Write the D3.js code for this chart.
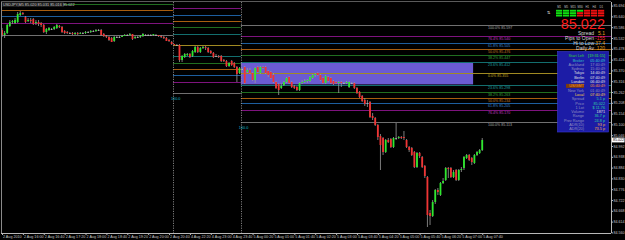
<!DOCTYPE html>
<html><head><meta charset="utf-8">
<script src="https://cdn.jsdelivr.net/npm/d3@7"></script>
<style>html,body{margin:0;padding:0;background:#000;overflow:hidden}svg{display:block}</style>
</head><body><svg id="c" width="625" height="240"></svg>
<script>
// ---------------- DATA ----------------
const opens=[85.572,85.547,85.557,85.592,85.612,85.607,85.612,85.647,85.657,85.637,85.617,85.622,85.627,85.607,85.612,85.607,85.597,85.562,85.572,85.577,85.577,85.582,85.592,85.587,85.567,85.562,85.557,85.557,85.552,85.557,85.552,85.557,85.557,85.562,85.562,85.567,85.567,85.572,85.572,85.552,85.542,85.537,85.532,85.517,85.537,85.537,85.537,85.542,85.547,85.547,85.552,85.532,85.537,85.537,85.542,85.547,85.547,85.547,85.547,85.547,85.547,85.542,85.537,85.532,85.522,85.512,85.502,85.497,85.497,85.422,85.437,85.447,85.452,85.442,85.462,85.487,85.462,85.482,85.487,85.482,85.467,85.457,85.442,85.442,85.442,85.422,85.417,85.392,85.417,85.407,85.387,85.357,85.377,85.387,85.362,85.372,85.357,85.322,85.387,85.357,85.387,85.387,85.367,85.362,85.347,85.312,85.302,85.282,85.297,85.312,85.337,85.312,85.292,85.287,85.272,85.307,85.312,85.317,85.317,85.332,85.347,85.357,85.347,85.332,85.307,85.337,85.332,85.317,85.312,85.307,85.312,85.307,85.307,85.287,85.307,85.307,85.282,85.262,85.242,85.222,85.207,85.212,85.142,85.132,85.097,85.042,85.032,84.962,85.022,85.027,84.987,85.032,85.032,85.037,85.037,85.022,84.987,84.982,84.962,84.887,84.957,84.937,84.892,84.837,84.657,84.642,84.712,84.772,84.747,84.807,84.822,84.882,84.882,84.837,84.872,84.822,84.872,84.882,84.932,84.947,84.932,84.907,84.947,84.957,84.972];
const highs=[85.582,85.567,85.602,85.622,85.622,85.632,85.662,85.667,85.662,85.642,85.632,85.632,85.632,85.622,85.622,85.612,85.602,85.582,85.587,85.582,85.592,85.602,85.597,85.592,85.572,85.567,85.562,85.562,85.562,85.562,85.562,85.562,85.567,85.567,85.572,85.572,85.577,85.577,85.577,85.557,85.547,85.542,85.537,85.542,85.542,85.542,85.547,85.552,85.552,85.557,85.552,85.542,85.542,85.547,85.557,85.552,85.552,85.552,85.552,85.552,85.547,85.547,85.542,85.537,85.527,85.517,85.502,85.502,85.502,85.447,85.457,85.457,85.457,85.472,85.492,85.492,85.487,85.492,85.492,85.487,85.472,85.462,85.452,85.447,85.447,85.427,85.422,85.412,85.422,85.412,85.392,85.387,85.382,85.392,85.382,85.382,85.362,85.387,85.392,85.392,85.392,85.392,85.372,85.367,85.357,85.317,85.307,85.307,85.317,85.337,85.342,85.317,85.297,85.292,85.312,85.322,85.327,85.327,85.342,85.352,85.357,85.362,85.352,85.337,85.347,85.342,85.337,85.322,85.317,85.317,85.317,85.312,85.317,85.317,85.312,85.312,85.287,85.267,85.247,85.232,85.222,85.217,85.157,85.137,85.102,85.052,85.037,85.027,85.032,85.032,85.037,85.107,85.042,85.042,85.067,85.027,84.992,84.987,84.967,84.962,84.962,84.942,84.897,84.842,84.672,84.722,84.777,84.782,84.812,84.832,84.887,84.887,84.887,84.872,84.877,84.877,84.887,84.942,84.952,84.952,84.937,84.952,84.967,84.977,85.032];
const lows=[85.537,85.532,85.552,85.587,85.602,85.602,85.607,85.642,85.647,85.607,85.612,85.607,85.597,85.597,85.592,85.587,85.557,85.552,85.567,85.572,85.572,85.577,85.582,85.557,85.552,85.552,85.552,85.547,85.547,85.547,85.552,85.552,85.552,85.557,85.557,85.562,85.562,85.567,85.542,85.537,85.532,85.517,85.512,85.512,85.532,85.532,85.537,85.542,85.542,85.547,85.522,85.527,85.532,85.532,85.537,85.542,85.542,85.542,85.542,85.542,85.537,85.532,85.527,85.517,85.512,85.497,85.497,85.492,85.412,85.412,85.432,85.442,85.432,85.437,85.457,85.457,85.457,85.477,85.472,85.457,85.452,85.432,85.437,85.432,85.412,85.412,85.387,85.387,85.392,85.382,85.312,85.352,85.372,85.302,85.357,85.352,85.317,85.307,85.357,85.352,85.377,85.352,85.337,85.327,85.307,85.277,85.247,85.277,85.292,85.307,85.302,85.282,85.277,85.267,85.267,85.302,85.307,85.307,85.312,85.327,85.337,85.342,85.317,85.302,85.302,85.312,85.302,85.297,85.302,85.257,85.287,85.302,85.302,85.282,85.302,85.277,85.252,85.232,85.212,85.192,85.187,85.132,85.122,85.092,85.022,84.872,84.947,84.957,85.007,84.982,84.982,85.022,85.027,85.027,85.022,84.982,84.962,84.942,84.882,84.882,84.932,84.882,84.832,84.587,84.597,84.637,84.702,84.747,84.742,84.802,84.817,84.832,84.832,84.832,84.817,84.817,84.862,84.872,84.927,84.917,84.897,84.902,84.942,84.952,84.967];
const closes=[85.547,85.557,85.597,85.612,85.617,85.622,85.652,85.657,85.652,85.612,85.622,85.617,85.602,85.612,85.602,85.597,85.562,85.577,85.582,85.577,85.587,85.597,85.587,85.562,85.557,85.557,85.557,85.552,85.557,85.552,85.557,85.557,85.562,85.562,85.567,85.567,85.572,85.572,85.547,85.542,85.537,85.522,85.512,85.537,85.537,85.537,85.542,85.547,85.547,85.552,85.527,85.537,85.537,85.542,85.552,85.547,85.547,85.547,85.552,85.547,85.542,85.537,85.532,85.517,85.517,85.502,85.497,85.497,85.422,85.442,85.452,85.452,85.437,85.467,85.487,85.462,85.482,85.487,85.482,85.462,85.457,85.437,85.442,85.437,85.417,85.417,85.392,85.407,85.397,85.387,85.352,85.382,85.377,85.307,85.372,85.357,85.322,85.382,85.362,85.387,85.382,85.357,85.347,85.332,85.312,85.282,85.272,85.292,85.312,85.332,85.307,85.287,85.282,85.272,85.307,85.312,85.317,85.322,85.337,85.347,85.352,85.347,85.322,85.307,85.342,85.317,85.307,85.302,85.307,85.312,85.307,85.307,85.312,85.312,85.307,85.282,85.257,85.237,85.217,85.202,85.207,85.137,85.132,85.097,85.037,84.997,84.962,85.022,85.012,84.987,85.032,85.032,85.037,85.032,85.032,84.987,84.972,84.947,84.887,84.957,84.942,84.887,84.842,84.647,84.642,84.712,84.772,84.762,84.807,84.817,84.882,84.877,84.837,84.862,84.822,84.872,84.877,84.937,84.947,84.922,84.912,84.947,84.962,84.972,85.022];

const timeLabels=["2 Aug 2010","2 Aug 16:00","2 Aug 16:40","2 Aug 17:20","2 Aug 18:00","2 Aug 18:40","2 Aug 19:20","2 Aug 20:00","2 Aug 20:40","4 Aug 22:20","4 Aug 23:00","4 Aug 23:40","5 Aug 00:20","5 Aug 01:00","5 Aug 01:40","5 Aug 02:20","5 Aug 03:00","5 Aug 03:40","5 Aug 04:20","5 Aug 05:00","5 Aug 05:40","5 Aug 06:20","5 Aug 07:00","5 Aug 07:40"];
const labelEvery=8;
const priceTicks=[85.694,85.640,85.586,85.532,85.478,85.424,85.370,85.316,85.262,85.208,85.154,85.100,85.046,84.992,84.938,84.884,84.830,84.776,84.722,84.668,84.614,84.560];
const lastPrice=85.022;
const daySeparators=[65.5,91.5];
const fibLevels=[0,23.6,38.2,50,61.8,76.4,100];
const fibA={from:-1,to:65.5,zero:85.801,down:85.547,up:null};
const fibB={from:65.5,to:91.5,zero:85.497,down:85.256,up:85.738};
const fibC={from:91.5,to:999,zero:85.355,down:85.113,up:85.597};
const rangeBox={from:91.5,to:180.5,top:85.411,bottom:85.300};
const sigTF=["M1","M5","M15","M30","H1","H4","D1"];
const sigState=["up","up","up","mix","dn","dn","dn"];
const infoRows=[["Spread","5.1"],["Pips to Open","-155"],["Hi to Low","37.4"],["Daily Av","120"]];
const panelLabels=["Start Left","Broker","Auckland","Sydney","Tokyo","Berlin","London","US/GMT","New York","Local","Spread","Price","1 Lot","Volume","Range","Prev Range","ADR(10)","ADR(20)"];
const panelValues=["[19:31:15]","05:40:49","17:40:49","15:40:49","14:40:49","07:40:49","06:40:49","05:40:49","01:40:49","07:40:49","5.1 p","85.022","$ 11.76","1871","36.7 p","24.8 p","93 p","73.5 p"];

// ---------------- DRAW ----------------
const FONT="Liberation Sans, Arial, sans-serif";
const svg=d3.select("#c");
const L=1,R=611,T=2,B=233;
svg.append("rect").attr("width",625).attr("height",240).attr("fill","#000");
const x=d3.scaleLinear().domain([0,184]).range([2,482.24]);
const y=d3.scaleLinear().domain([84.560,85.694]).range([232.4,5.6]);
const g=svg.append("g");
svg.append("defs").append("clipPath").attr("id","plot").append("rect").attr("x",L).attr("y",T).attr("width",R-L).attr("height",B-T);
const plot=g.append("g").attr("clip-path","url(#plot)");

plot.append("rect").attr("x",x(rangeBox.from)).attr("y",y(rangeBox.top))
  .attr("width",x(rangeBox.to)-x(rangeBox.from)).attr("height",y(rangeBox.bottom)-y(rangeBox.top))
  .attr("fill","#6b5bd2");

const fibColor={0:"#a08a22",23.6:"#136e6e",38.2:"#206e20",50:"#a85e10",61.8:"#1d5e9e",76.4:"#7e137e",100:"#707070"};
const fibText={0:"#c8a820",23.6:"#20a0a0",38.2:"#3aa03a",50:"#c87a20",61.8:"#3f86d0",76.4:"#c03ac0",100:"#a8a8a8"};
function drawFib(f,labels){
  const x1=Math.max(L,x(f.from)), x2=Math.min(R,x(f.to));
  const items=[];
  fibLevels.forEach(l=>{
    items.push({l,p:f.zero+(f.down-f.zero)*l/100});
    if(f.up!==null && l>0) items.push({l,p:f.zero+(f.up-f.zero)*l/100});
  });
  plot.selectAll(null).data(items).enter().append("line")
    .attr("x1",x1).attr("x2",x2).attr("y1",d=>Math.round(y(d.p))+0.5).attr("y2",d=>Math.round(y(d.p))+0.5)
    .attr("stroke",d=>fibColor[d.l]).attr("stroke-width",1);
  if(labels){
    plot.selectAll(null).data(items).enter().append("text")
      .attr("x",488).attr("y",d=>Math.round(y(d.p))+4.4)
      .attr("font-family",FONT).attr("font-size",3.6)
      .attr("fill",d=>fibText[d.l]).text(d=>d.l.toFixed(1)+"%  "+d.p.toFixed(3));
  }
}
drawFib(fibA,false);drawFib(fibB,false);drawFib(fibC,true);

[[fibB.from,fibB.down],[fibC.from,fibC.down]].forEach(([b,p])=>{
  plot.append("text").attr("x",x(b)-2).attr("y",y(p)+7).attr("font-family",FONT)
   .attr("font-size",3.8).attr("fill","#10b8c8").text("100.0");
});

daySeparators.forEach(b=>{
  g.append("line").attr("x1",Math.round(x(b))+0.5).attr("x2",Math.round(x(b))+0.5).attr("y1",T).attr("y2",B)
   .attr("stroke","#9a9a9a").attr("stroke-width",0.8).attr("stroke-dasharray","1.2,1.2");
});

const idx=d3.range(closes.length);
const cg=plot.append("g");
cg.selectAll("line").data(idx).enter().append("line")
  .attr("x1",i=>x(i)).attr("x2",i=>x(i)).attr("y1",i=>y(highs[i])).attr("y2",i=>y(lows[i]))
  .attr("stroke","#9a9a9a").attr("stroke-width",0.8);
cg.selectAll("rect").data(idx).enter().append("rect")
  .attr("x",i=>x(i)-0.9).attr("width",1.8)
  .attr("y",i=>y(Math.max(opens[i],closes[i])))
  .attr("height",i=>Math.max(0.8,Math.abs(y(opens[i])-y(closes[i]))))
  .attr("fill",i=>closes[i]>opens[i]?"#2ee82e":(closes[i]<opens[i]?"#f03434":"#b8b8b8"));

g.append("line").attr("x1",L+0.5).attr("x2",L+0.5).attr("y1",T).attr("y2",B).attr("stroke","#8a8a8a");
g.append("line").attr("x1",L).attr("x2",R).attr("y1",T-0.5).attr("y2",T-0.5).attr("stroke","#5a5a5a");

const ya=svg.append("g").attr("transform",`translate(${R+0.5},0)`)
  .call(d3.axisRight(y).tickValues(priceTicks).tickSize(1.5).tickPadding(0.5).tickFormat(d3.format(".3f")));
ya.select(".domain").attr("stroke","#b8b8b8").attr("d",`M0,${T}V${B}`);
ya.selectAll(".tick line").attr("stroke","#b8b8b8");
ya.selectAll("text").attr("fill","#c8c8c8").attr("font-size",3.6).attr("font-family",FONT);

svg.append("rect").attr("x",R+1).attr("y",y(lastPrice)-2.4).attr("width",12.5).attr("height",4.8).attr("fill","#ffffff");
svg.append("text").attr("x",R+2).attr("y",y(lastPrice)+1.3).attr("font-size",3.6).attr("fill","#000")
  .attr("font-family",FONT).text(lastPrice.toFixed(3));

const tickIdx=timeLabels.map((d,i)=>i*labelEvery);
const xa=svg.append("g").attr("transform",`translate(0,${B+0.5})`)
  .call(d3.axisBottom(x).tickValues(tickIdx).tickSize(1.5).tickPadding(0.5).tickFormat((d,i)=>timeLabels[i]));
xa.select(".domain").attr("stroke","#b8b8b8").attr("d",`M${L},0H${R}`);
xa.selectAll(".tick line").attr("stroke","#b8b8b8");
xa.selectAll("text").attr("fill","#c8c8c8").attr("font-size",3.7).attr("text-anchor","start").attr("dx",0.5)
  .attr("font-family",FONT);

svg.append("rect").attr("x",2).attr("y",2).attr("width",62).attr("height",5).attr("fill","#1a1a1a");
svg.append("text").attr("x",3).attr("y",5.9).attr("font-size",3.8).attr("fill","#d0d0d0")
  .attr("font-family",FONT).text("USDJPY,M5  85.020 85.031 85.016 85.022");

const sw=svg.append("g");
sigTF.forEach((tf,i)=>{
  const cx=556+i*7;
  sw.append("text").attr("x",cx+3.2).attr("y",8).attr("text-anchor","middle").attr("font-size",2.8)
    .attr("fill","#c0c0c0").attr("font-family",FONT).text(tf);
  [0,1,2].forEach(r=>{
    const col=sigState[i]==="up"?"#10e010":(sigState[i]==="dn"?"#ee1010":(r<1?"#10e010":"#ee1010"));
    sw.append("rect").attr("x",cx).attr("y",9.8+r*2.4).attr("width",6.2).attr("height",1.9).attr("fill",col);
  });
});
sw.append("text").attr("x",547).attr("y",14).attr("font-size",4).attr("fill","#e0e0e0")
  .attr("font-family","DejaVu Sans, sans-serif").text("⇅");

svg.append("text").attr("x",605).attr("y",28.6).attr("text-anchor","end").attr("font-size",14.5)
  .attr("fill","#ff1a1a").attr("font-family",FONT).text(lastPrice.toFixed(3));

const infoColors=["#e8a020","#ff2a2a","#e8a020","#e8a020"];
infoRows.forEach((r,i)=>{
  const yy=35.3+i*5;
  svg.append("text").attr("x",594).attr("y",yy).attr("text-anchor","end").attr("font-size",5)
    .attr("fill","#d8d8d8").attr("font-family",FONT).text(r[0]);
  svg.append("text").attr("x",605).attr("y",yy).attr("text-anchor","end").attr("font-size",5)
    .attr("fill",infoColors[i]).attr("font-family",FONT).text(r[1]);
});

const pg=svg.append("g");
pg.append("rect").attr("x",557.5).attr("y",51.5).attr("width",51).attr("height",80.5)
  .attr("fill","#1c1ca6").attr("stroke","#3a3ad0").attr("stroke-width",0.6);
const labCol=["#30d030","#30c0c0","#9090c0","#9090c0","#e0e0e0","#e0e0e0","#e0e0e0","#ff9a30","#9090c0","#ffd040","#9090c0","#9090c0","#9090c0","#9090c0","#9090c0","#9090c0","#9090c0","#9090c0"];
const valCol=["#30e030","#30d0d0","#9090c0","#9090c0","#e0e0e0","#e0e0e0","#e0e0e0","#ff9a30","#9090c0","#ffd040","#30d0a0","#30d0a0","#30d0a0","#e0e0e0","#30d0a0","#30d0a0","#ffb040","#ffb040"];
panelLabels.forEach((t,i)=>{
  const yy=57.2+i*4.3;
  if(t==="US/GMT") pg.append("rect").attr("x",566).attr("y",yy-3.4).attr("width",18).attr("height",4).attr("fill","#7a3a10");
  pg.append("text").attr("x",584).attr("y",yy).attr("text-anchor","end").attr("font-size",3.8)
    .attr("fill",labCol[i]).attr("font-family",FONT).text(t);
  pg.append("text").attr("x",605).attr("y",yy).attr("text-anchor","end").attr("font-size",3.8)
    .attr("fill",valCol[i]).attr("font-family",FONT).text(panelValues[i]);
});
</script></body></html>
